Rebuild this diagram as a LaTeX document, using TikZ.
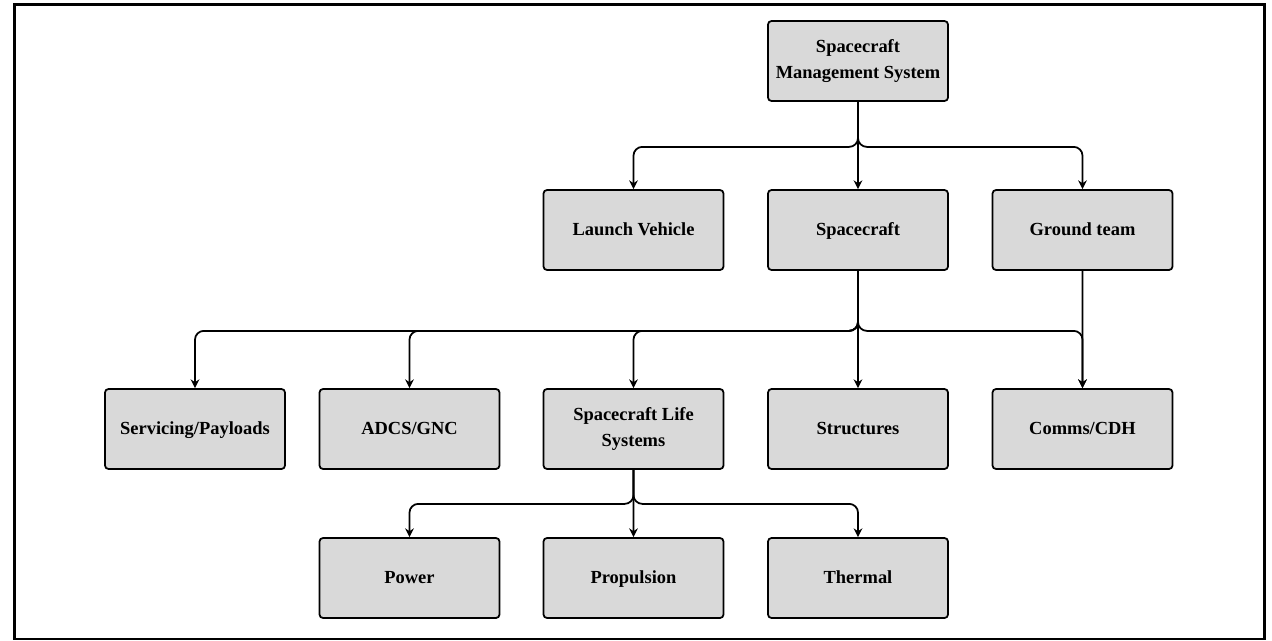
\documentclass[tikz,border=0pt]{standalone}
\usepackage{fontspec}
\setmainfont{Liberation Serif}
\usepackage{xcolor}
\usetikzlibrary{arrows.meta}
\definecolor{boxgray}{HTML}{D9D9D9}

\begin{document}
\begin{tikzpicture}[scale=0.2]
\tikzstyle{every node}+=[inner sep=0pt]
\tikzstyle{block}=[draw=black, line width=1pt, fill=boxgray, rounded corners=2pt, minimum width=3.6cm, minimum height=1.6cm, align=center, font=\bfseries\fontsize{10.5}{14.5}\selectfont]
\tikzstyle{single}=[block, text height=0.8em, text depth=0.2em]
\tikzstyle{link}=[black, line width=1pt, rounded corners=5pt, -{Stealth[length=5pt,width=5pt]}]
\useasboundingbox (0,0) rectangle (127.2,-64);
\draw [black, line width=1.6pt] (1.45,-0.45) rectangle (126.45,-63.9);
% top
\node [block] (sms) at (85.8,-6.1) {Spacecraft\\Management System};
% second row
\node [single] (lv) at (63.35,-23) {Launch Vehicle};
\node [single] (sc) at (85.8,-23) {Spacecraft};
\node [single] (gt) at (108.25,-23) {Ground team};
% third row
\node [single] (srv) at (19.5,-42.9) {Servicing/Payloads};
\node [single] (adcs) at (40.95,-42.9) {ADCS/GNC};
\node [block] (sls) at (63.35,-42.9) {Spacecraft Life\\Systems};
\node [single] (str) at (85.8,-42.9) {Structures};
\node [single] (cdh) at (108.25,-42.9) {Comms/CDH};
% fourth row
\node [single] (pwr) at (40.95,-57.8) {Power};
\node [single] (prop) at (63.35,-57.8) {Propulsion};
\node [single] (thm) at (85.8,-57.8) {Thermal};
% links
\draw [link] (sms.south) -- ++(0,-4.5) -| (lv.north);
\draw [link] (sms) -- (sc);
\draw [link] (sms.south) -- ++(0,-4.5) -| (gt.north);
\foreach \child in {srv,adcs,sls,cdh}
  \draw [link] (sc.south) -- ++(0,-6) -| (\child.north);
\draw [link] (sc) -- (str);
\draw [link] (gt) -- (cdh);
\draw [link] (sls.south) -- ++(0,-3.4) -| (pwr.north);
\draw [link] (sls) -- (prop);
\draw [link] (sls.south) -- ++(0,-3.4) -| (thm.north);
\end{tikzpicture}
\end{document}
